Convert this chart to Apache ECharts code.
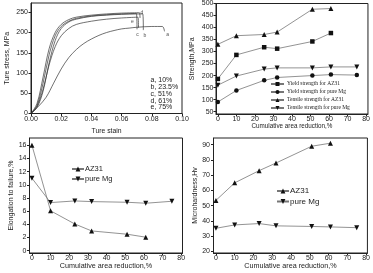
<!DOCTYPE html>
<html>
<head>
<meta charset="UTF-8">
<title>AZ31 and pure Mg</title>
<script src="https://cdn.jsdelivr.net/npm/echarts@6/dist/echarts.min.js"></script>
<style>
body{margin:0;background:#fff}
#main{width:373px;height:273px}
</style>
</head>
<body>
<div id="main"></div>
<script type="text/javascript">
// true stress-strain curves, [strain, stress MPa]
var curveA = [[0,0],[0.005,18],[0.01,40],[0.015,75],[0.02,110],[0.025,138],[0.03,158],[0.035,173],[0.04,184],[0.045,193],[0.05,200],[0.055,205],[0.06,209],[0.065,211],[0.07,213],[0.08,215],[0.087,215],[0.0884,203]];
var curveB = [[0,0],[0.004,15],[0.008,55],[0.012,125],[0.016,180],[0.02,210],[0.025,226],[0.03,233],[0.04,240],[0.05,243],[0.06,245],[0.07,246],[0.074,246],[0.0744,206]];
var curveC = [[0,0],[0.004,20],[0.008,75],[0.012,145],[0.016,192],[0.02,215],[0.025,228],[0.03,235],[0.04,241],[0.05,244],[0.06,246],[0.0698,247],[0.0702,208]];
var curveD = [[0,0],[0.004,25],[0.008,90],[0.012,160],[0.016,200],[0.02,220],[0.025,232],[0.03,238],[0.04,243],[0.05,246],[0.06,248],[0.0718,249],[0.0722,236]];
var curveE = [[0,0],[0.004,18],[0.008,60],[0.012,120],[0.016,165],[0.02,192],[0.025,210],[0.03,220],[0.04,228],[0.05,233],[0.06,236],[0.0708,238],[0.0712,212]];
var curveTags = ['a', 'b', 'c', 'd', 'e'];
var curveTagPos = [[0.0905,196],[0.0755,192],[0.0705,195],[0.0735,249],[0.0672,226]];
var curveNames = ['a, 10%', 'b, 23.5%', 'c, 51%', 'd, 61%', 'e, 75%'];

// strength vs cumulative area reduction
var reductionTop = [0, 10, 25, 32, 51, 61, 75];
var yieldAZ31 = [186, 286, 318, 312, 342, 377];
var yieldMg = [90, 138, 180, 192, 200, 204, 202];
var tensileAZ31 = [330, 366, 371, 381, 476, 479];
var tensileMg = [160, 198, 227, 232, 232, 236, 236];

// elongation and microhardness
var reduction = [0, 10, 23, 32, 51, 61, 75];
var elongAZ31 = [16, 6.05, 4.05, 3.0, 2.5, 2.05];
var elongMg = [11, 7.3, 7.55, 7.45, 7.35, 7.2, 7.5];
var hardAZ31 = [53.5, 65, 73, 78, 89, 91];
var hardMg = [35.2, 37.4, 38.3, 36.8, 36.4, 36.1, 35.6];

var strainTicks = [0, 0.02, 0.04, 0.06, 0.08, 0.1];
var reductionTicks = [0, 10, 20, 30, 40, 50, 60, 70, 80];
var strengthTicks = [50, 100, 150, 200, 250, 300, 350, 400, 450, 500];
var elongTicks = [0, 2, 4, 6, 8, 10, 12, 14, 16];
var hardTicks = [20, 30, 40, 50, 60, 70, 80, 90];

function pairs(xs, ys) {
    return ys.map(function (v, i) { return [xs[i], v]; });
}

var ink = '#222';
var fontSans = 'Liberation Sans, Arial, sans-serif';
var downTri = 'path://M0,0L10,0L5,9Z';

function xAx(idx, min, max, ticks, name, fs, margin, gap, fmt) {
    return {
        type: 'value', gridIndex: idx, min: min, max: max,
        name: name, nameLocation: 'middle', nameGap: gap,
        nameTextStyle: { color: ink, fontSize: fs, fontFamily: fontSans },
        axisLine: { onZero: false, lineStyle: { color: ink, width: 1 } },
        axisTick: { customValues: ticks, length: 2.5, lineStyle: { color: ink } },
        axisLabel: { customValues: ticks, margin: margin, color: ink, fontSize: 7, fontFamily: fontSans, formatter: fmt },
        splitLine: { show: false }
    };
}
function yAx(idx, min, max, ticks, name, fs, margin, gap) {
    return {
        type: 'value', gridIndex: idx, min: min, max: max,
        name: name, nameLocation: 'middle', nameGap: gap,
        nameTextStyle: { color: ink, fontSize: fs, fontFamily: fontSans },
        axisLine: { onZero: false, lineStyle: { color: ink, width: 1 } },
        axisTick: { customValues: ticks, length: 2.5, lineStyle: { color: ink } },
        axisLabel: { customValues: ticks, margin: margin, color: ink, fontSize: 7, fontFamily: fontSans },
        splitLine: { show: false }
    };
}

function curve(data) {
    return {
        type: 'line', xAxisIndex: 0, yAxisIndex: 0, data: data,
        smooth: 0.35, showSymbol: false, silent: true,
        lineStyle: { color: '#333', width: 0.7 }
    };
}
function marked(name, xi, data, symbol, size) {
    return {
        name: name, type: 'line', xAxisIndex: xi, yAxisIndex: xi, data: data,
        symbol: symbol, symbolSize: size,
        itemStyle: { color: '#111' },
        lineStyle: { color: '#777', width: 0.8 }
    };
}

var myChart = echarts.init(document.getElementById('main'), null, { renderer: 'canvas' });

var option = {
    animation: false,
    backgroundColor: '#fff',
    grid: [
        { left: 31, top: 3, width: 151, height: 110.5, show: true, borderColor: ink, borderWidth: 1 },
        { left: 216, top: 3, width: 152, height: 111, show: true, borderColor: ink, borderWidth: 1 },
        { left: 29.5, top: 138, width: 153, height: 115, show: true, borderColor: ink, borderWidth: 1 },
        { left: 213.5, top: 138, width: 154.5, height: 115, show: true, borderColor: ink, borderWidth: 1 }
    ],
    xAxis: [
        xAx(0, 0, 0.1, strainTicks, 'Ture stain', 6.8, 2.5, 14, function (v) { return v.toFixed(2); }),
        xAx(1, -1, 81, reductionTicks, 'Cumulative area reduction,%', 6.3, 1.5, 9.5),
        xAx(2, -1.3, 80.7, reductionTicks, 'Cumulative area reduction,%', 7.2, 1.5, 8),
        xAx(3, -1.3, 80.7, reductionTicks, 'Cumulative area reduction,%', 7.2, 1.5, 10)
    ],
    yAxis: [
        yAx(0, 0, 273, [0, 50, 100, 150, 200, 250], 'Ture stress, MPa', 7, 3, 20),
        yAx(1, 40, 500, strengthTicks, 'Strength,MPa', 7, 2.5, 20),
        yAx(2, -0.35, 17.1, elongTicks, 'Elongation to failure,%', 7, 3, 12),
        yAx(3, 19, 94.4, hardTicks, 'Microhardness,Hv', 7, 3.5, 8.5)
    ],
    legend: [
        {
            data: ['Yield strength for AZ31', 'Yield strength for pure Mg', 'Tensile strength for AZ31', 'Tensile strength for pure Mg'],
            orient: 'vertical', left: 270, top: 81, itemWidth: 13, itemHeight: 5, itemGap: 2,
            textStyle: { fontSize: 5.5, lineHeight: 5, color: ink, fontFamily: 'Liberation Serif, Times New Roman, serif', padding: [0, 0, 0, -2] },
            padding: 0, selectedMode: false
        },
        {
            data: ['AZ31', 'pure Mg'],
            orient: 'vertical', left: 71, top: 165, itemWidth: 12, itemHeight: 6, itemGap: 2,
            textStyle: { fontSize: 7.5, lineHeight: 7, color: ink, fontFamily: fontSans, padding: [0, 0, 0, -4] },
            padding: 0, selectedMode: false
        },
        {
            data: ['AZ31', 'pure Mg'],
            orient: 'vertical', left: 276, top: 187, itemWidth: 12, itemHeight: 6, itemGap: 2.5,
            textStyle: { fontSize: 8, lineHeight: 8, color: ink, fontFamily: fontSans, padding: [0, 0, 0, -4] },
            padding: 0, selectedMode: false
        }
    ],
    graphic: [{
        type: 'text', left: 150.5, top: 77,
        style: { text: curveNames.join('\n'), fontSize: 7, lineHeight: 6.7, fill: ink, fontFamily: fontSans }
    }],
    series: [
        curve(curveA), curve(curveB), curve(curveC), curve(curveD), curve(curveE),
        {
            type: 'scatter', xAxisIndex: 0, yAxisIndex: 0, symbolSize: 0, silent: true,
            data: curveTagPos.map(function (p, i) { return { name: curveTags[i], value: p }; }),
            label: { show: true, position: 'inside', formatter: '{b}', fontSize: 5, color: ink, fontFamily: fontSans }
        },
        marked('Yield strength for AZ31', 1, pairs(reductionTop, yieldAZ31), 'rect', 4.5),
        marked('Yield strength for pure Mg', 1, pairs(reductionTop, yieldMg), 'circle', 4.5),
        marked('Tensile strength for AZ31', 1, pairs(reductionTop, tensileAZ31), 'triangle', 5),
        marked('Tensile strength for pure Mg', 1, pairs(reductionTop, tensileMg), downTri, 5),
        marked('AZ31', 2, pairs(reduction, elongAZ31), 'triangle', 5),
        marked('pure Mg', 2, pairs(reduction, elongMg), downTri, 5),
        marked('AZ31', 3, pairs(reduction, hardAZ31), 'triangle', 5),
        marked('pure Mg', 3, pairs(reduction, hardMg), downTri, 5)
    ]
};

myChart.setOption(option);
</script>
</body>
</html>
